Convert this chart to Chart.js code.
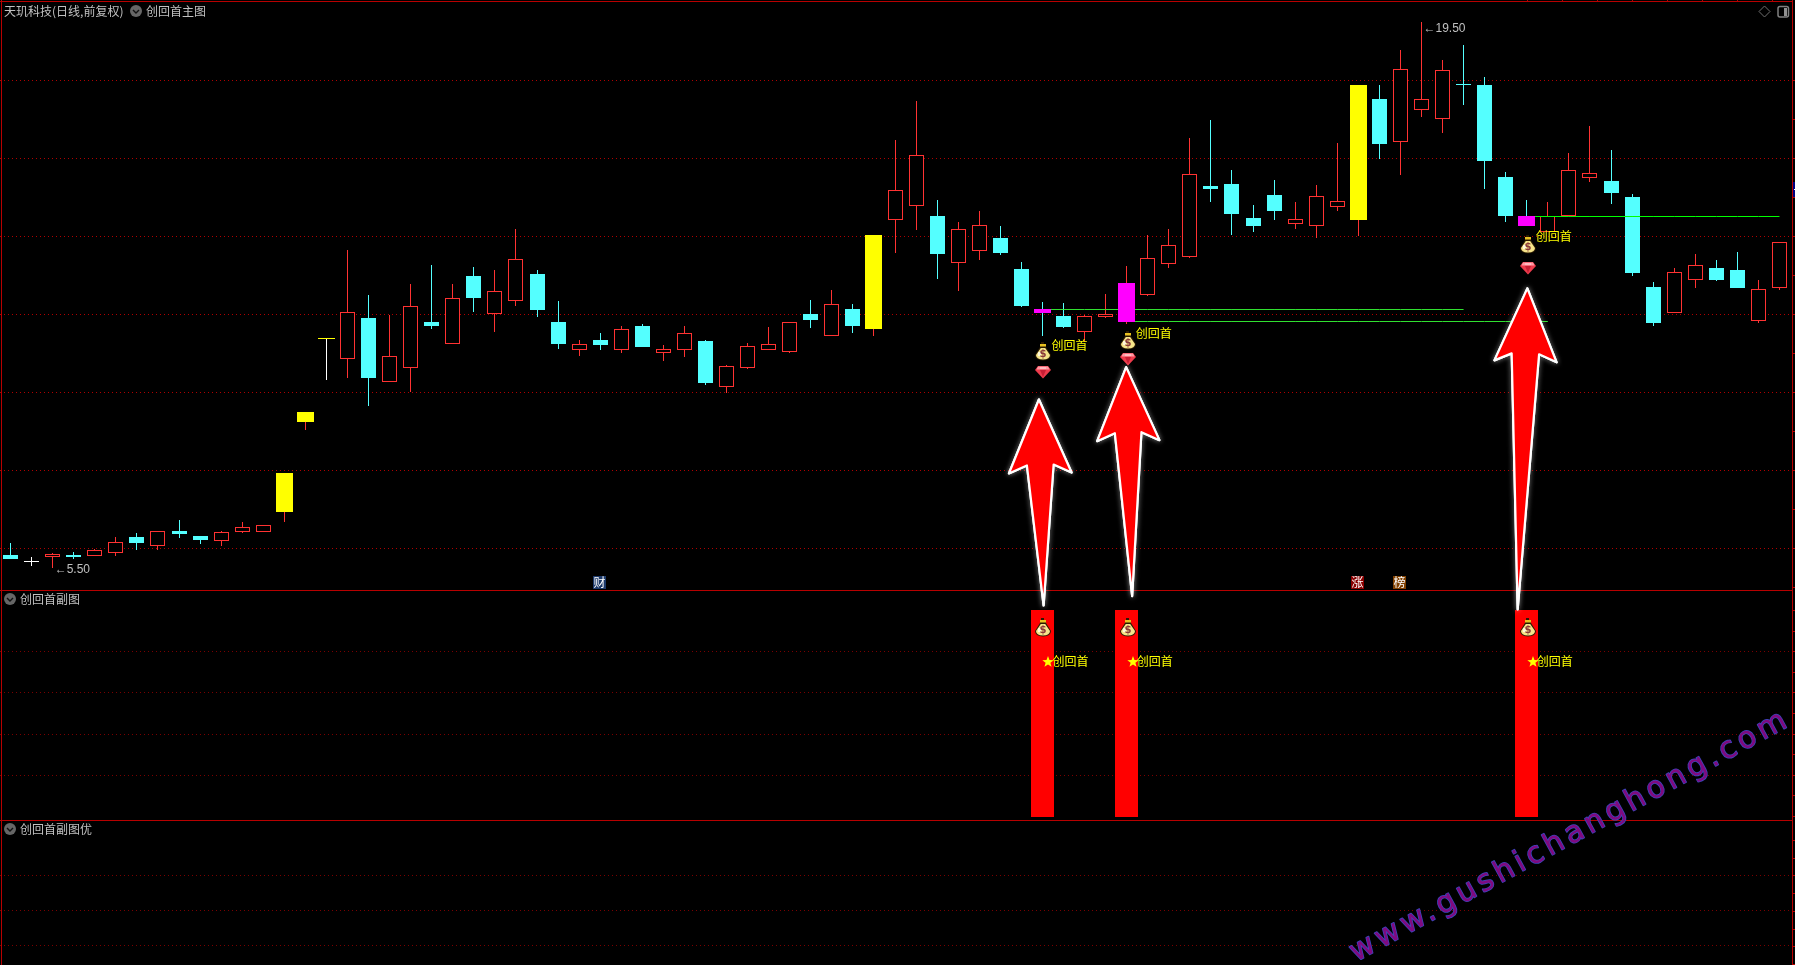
<!DOCTYPE html>
<html lang="zh">
<head>
<meta charset="utf-8">
<title>创回首主图</title>
<style>html,body{margin:0;padding:0;background:#000;overflow:hidden}canvas{display:block}</style>
<script src="https://cdn.jsdelivr.net/npm/chart.js@4"></script>
</head>
<body>
<canvas id="c" width="1795" height="965"></canvas>
<script>
const opens = [5.83,5.69,5.77,5.83,5.80,5.89,6.29,6.07,6.45,6.32,6.18,6.43,6.43,6.94,9.25,11.39,10.85,11.91,10.28,10.63,11.81,11.24,12.99,12.02,12.35,13.04,11.81,11.10,11.35,11.10,11.71,11.00,11.10,11.32,10.15,10.64,11.10,11.05,12.01,11.46,12.14,11.63,14.43,14.79,14.53,13.33,13.64,13.96,13.17,12.14,11.96,11.56,11.94,11.81,12.51,13.30,13.48,15.29,15.35,14.47,15.06,14.33,14.28,14.76,14.42,17.53,16.41,17.25,17.00,17.90,17.88,15.53,14.53,14.11,14.52,15.51,15.42,15.01,12.71,12.05,12.89,13.19,13.14,11.84,12.69];
const closes = [5.73,5.69,5.86,5.78,5.96,6.17,6.15,6.46,6.36,6.23,6.42,6.54,6.59,7.94,9.50,11.39,12.06,10.36,10.93,12.22,11.71,12.42,12.42,12.59,13.42,12.12,11.24,11.24,11.22,11.62,11.17,11.11,11.52,10.24,10.67,11.18,11.24,11.80,11.86,12.26,11.71,14.04,15.18,16.08,13.55,14.18,14.29,13.58,12.22,12.04,11.68,11.95,12.01,12.81,13.44,13.77,15.59,15.22,14.58,14.27,14.65,14.44,15.03,14.90,17.88,16.37,18.29,17.52,18.26,17.89,15.94,14.53,14.27,14.53,15.70,15.62,15.12,13.06,11.78,13.08,13.26,12.89,12.68,12.65,13.85];
const highs  = [6.15,5.78,5.88,5.91,5.99,6.29,6.40,6.46,6.73,6.32,6.45,6.68,6.59,7.94,9.50,11.39,13.65,12.50,11.99,12.78,13.27,12.78,13.22,13.14,14.19,13.14,12.35,11.35,11.53,11.71,11.76,11.22,11.71,11.35,10.71,11.27,11.68,11.80,12.37,12.63,12.27,14.04,16.47,17.47,14.94,14.37,14.65,14.27,13.35,12.32,12.30,11.99,12.53,13.24,14.04,14.19,16.53,16.99,15.70,14.81,15.45,14.88,15.32,16.40,17.88,17.88,18.78,19.50,18.53,18.91,18.09,15.65,14.94,14.88,16.14,16.83,16.22,15.09,12.83,13.19,13.55,13.40,13.60,12.89,13.85];
const lows   = [5.73,5.56,5.50,5.73,5.80,5.82,5.97,5.97,6.28,6.12,6.07,6.41,6.43,6.69,9.04,10.33,10.38,9.66,10.28,10.01,11.62,11.24,12.07,11.56,12.23,11.94,11.12,10.94,11.10,11.02,11.17,10.82,10.92,10.20,9.99,10.61,11.10,11.02,11.66,11.46,11.53,11.46,13.58,14.17,12.92,12.60,13.41,13.53,12.19,11.46,11.65,11.30,11.91,11.76,12.48,13.20,13.46,14.88,14.04,14.12,14.42,14.19,13.97,14.66,14.02,15.99,15.58,17.06,16.65,17.37,15.22,14.37,14.27,14.11,14.52,15.40,14.83,12.99,11.71,12.05,12.68,12.86,12.68,11.78,12.63];
const labels = opens.map((_, i) => i);

const yellowDays  = [13,14,15,41,64];
const magentaDays = [49,53,72];
const signalDays  = [49,53,72];
const bagPrices   = [11.06,11.34,13.80];
const gemPrices   = [10.53,10.85,13.20];
const signalTextPrices = [11.20,11.52,13.99];
const signalText  = '创回首';

const lineStarts = [49,53,72];
const lineEnds   = [69,73,84];
const linePrices = [12.14,11.82,14.52];

const mainTicks = [6,8,10,12,14,16,18];
const subTicks  = [0.2,0.4,0.6,0.8];
const optTicks  = [0.25,0.5,0.75];
const subBarValue = 1;
const subBagValue = 0.92;
const subTextValue = 0.75;

const badgeDays   = [28,64,66];
const badgeTexts  = ['财','涨','榜'];
const badgeColors = ['#1d3a6b','#8a0000','#804000'];

const RED='#ff3232', CYAN='#54ffff', YEL='#ffff00', MAG='#ff00ff', WHITE='#ffffff';
const FRAME='#b80000';
const CJK='"Noto Sans CJK SC","Noto Sans",sans-serif';

const isYellow = i => yellowDays.includes(i);
const isMag = i => magentaDays.includes(i);
const isFlat = i => opens[i] === closes[i];
const wickColors = labels.map(i => isFlat(i) ? WHITE : closes[i] > opens[i] ? RED : CYAN);
const bodyTop = i => Math.max(opens[i], closes[i]);
const bodyBot = i => Math.min(opens[i], closes[i]);
const bodyOf = f => labels.map(i => f(i) ? [bodyBot(i), bodyTop(i)] : null);
const barBase = {type:'bar', yAxisID:'y', grouped:false, inflateAmount:0, borderSkipped:false, borderWidth:0};

function mk(w,h,fn){const c=document.createElement('canvas');c.width=w;c.height=h;fn(c.getContext('2d'));return c;}
const bagIcon = mk(18,20,g=>{
  g.fillStyle='#2a1a00';g.beginPath();g.moveTo(6,6);g.lineTo(12,6);g.lineTo(17,14);g.quadraticCurveTo(17,19,9,19.5);g.quadraticCurveTo(1,19,1,14);g.closePath();g.fill();
  g.fillStyle='#f6e48a';g.beginPath();g.moveTo(6.8,7);g.lineTo(11.2,7);g.lineTo(16,14);g.quadraticCurveTo(16,18.2,9,18.6);g.quadraticCurveTo(2,18.2,2,14);g.closePath();g.fill();
  g.fillStyle='#fff8d8';g.fillRect(4,11,3,4);
  g.fillStyle='#e8c020';g.fillRect(6,3,6,3);g.fillStyle='#2a1a00';g.fillRect(6,5.5,6,1);g.fillRect(7,1,3,2);
  g.fillStyle='#8a3a3a';g.font='bold 10px "DejaVu Sans"';g.textAlign='center';g.textBaseline='middle';g.fillText('$',9,13.5);
});
const gemIcon = mk(18,14,g=>{
  g.fillStyle='#ee3b4c';g.beginPath();g.moveTo(4,1);g.lineTo(14,1);g.lineTo(17,5);g.lineTo(9,13.5);g.lineTo(1,5);g.closePath();g.fill();
  g.fillStyle='#ff9aa4';g.beginPath();g.moveTo(4,1.5);g.lineTo(14,1.5);g.lineTo(15.5,4.5);g.lineTo(2.5,4.5);g.closePath();g.fill();
  g.fillStyle='#ffd9dd';g.fillRect(6,2.5,6,1);
  g.fillStyle='#c81e34';g.beginPath();g.moveTo(6,5);g.lineTo(12,5);g.lineTo(9,12);g.closePath();g.fill();
});
const starIcon = mk(22,12,g=>{
  g.fillStyle='#ffff00';g.beginPath();
  for(let k=0;k<10;k++){const r=k%2?2.5:6,a=-Math.PI/2+k*Math.PI/5,x=16+r*Math.cos(a),y=6+r*Math.sin(a);k?g.lineTo(x,y):g.moveTo(x,y);}
  g.closePath();g.fill();
});

const sparse = (days, vals) => labels.map(i => { const k = days.indexOf(i); return k < 0 ? null : vals[k]; });
const greenSeries = (k) => labels.map(i => (i >= lineStarts[k] && i <= lineEnds[k]) ? linePrices[k] : null);
const markerDs = (yAxisID, data, icon, order) => ({type:'line', yAxisID, data, showLine:false, pointStyle:icon, pointRadius:8, pointHoverRadius:8, order, snapMarker:true});
const greenDs = (k, color) => ({type:'line', yAxisID:'y', data:greenSeries(k), borderColor:color, borderWidth:1, pointRadius:0, spanGaps:false, tension:0, order:3, snapLine:true});

const arrowTips = [
  {day:49, price:9.82,  shape:[[-30,74],[-12,66],[4.7,206],[14.7,65],[32.7,73]], dx:-3.5},
  {day:53, price:10.65, shape:[[-29,74],[-11.3,66],[6,229],[15.3,65],[33.3,73]], dx:-0.5},
  {day:72, price:12.67, shape:[[-33,72],[-15.7,65],[-9.7,321],[11.7,66],[29.3,74]], dx:0.6}
];

const panelPlugin = {
  id:'panel',
  afterDatasetsUpdate(ch){
    ch.getSortedVisibleDatasetMetas().forEach(m=>{
      const ds = ch.data.datasets[m.index];
      if (m.type==='bar') m.data.forEach(el=>{
        if (el.skip || !isFinite(el.y)) return;
        el.x = Math.round(el.x-0.5)+0.5;
        el.y = Math.round(el.y); el.base = Math.round(el.base);
        if (ds.minOne && el.base-el.y < 1) el.base = el.y+1;
        el.height = el.base-el.y;
      });
      if (ds.snapLine) m.data.forEach(el=>{ if(!el.skip){el.y=Math.floor(el.y)+0.5;} });
      if (ds.snapMarker) m.data.forEach(el=>{ if(!el.skip){el.x=Math.round(el.x)+1;el.y=Math.round(el.y);} });
    });
  },
  beforeDatasetsDraw(ch){
    const c=ch.ctx, W=1795, H=965;
    c.save();
    c.fillStyle=FRAME;
    c.fillRect(0,1,1793,1);
    c.fillRect(1,0,1,H);
    c.fillRect(1792,0,1,H);
    c.fillRect(0,Math.round(ch.scales.y2.top),1793,1);
    c.fillRect(0,Math.round(ch.scales.y3.top),1793,1);
    for(let x=1527;x<1790;x+=35) c.fillRect(x,0,1,1);
    for(let y=80;y<590;y+=39) c.fillRect(1793,y,2,1);
    for(let y=610;y<820;y+=20.6) c.fillRect(1793,Math.round(y),2,1);
    for(let y=840;y<965;y+=17.7) c.fillRect(1793,Math.round(y),2,1);
    c.fillStyle='#000080';c.fillRect(1793,182,2,15);
    c.fillStyle='#ffffff';c.fillRect(1794,189,1,1);
    c.restore();
  },
  afterDatasetsDraw(ch){
    const c=ch.ctx, X=ch.scales.x, Y=ch.scales.y, Y2=ch.scales.y2;
    c.save();
    // arrows
    arrowTips.forEach(a=>{
      const tx=X.getPixelForValue(a.day)+a.dx, ty=Y.getPixelForValue(a.price);
      c.save();
      c.beginPath();c.moveTo(tx,ty);
      a.shape.forEach(p=>c.lineTo(tx+p[0],ty+p[1]));
      c.closePath();
      c.lineJoin='round';c.lineWidth=2.2;c.strokeStyle='#fff';c.fillStyle='#ff0000';
      c.shadowColor='rgba(255,255,255,0.65)';c.shadowBlur=5;
      c.stroke();c.shadowBlur=0;c.fill();c.stroke();
      c.restore();
    });
    // signal texts
    c.font='12px '+CJK;c.textBaseline='middle';c.textAlign='left';c.fillStyle=YEL;
    signalDays.forEach((d,k)=>{
      const x=X.getPixelForValue(d);
      c.fillText(signalText,x+9,Y.getPixelForValue(signalTextPrices[k]));
      c.fillText(signalText,x+10,Y2.getPixelForValue(subTextValue));
    });
    // extremes
    c.fillStyle='#c0c0c0';c.font='12px "Liberation Sans",sans-serif';
    const hi=highs.indexOf(Math.max(...highs)), lo=lows.indexOf(Math.min(...lows));
    c.fillText('←'+highs[hi].toFixed(2),X.getPixelForValue(hi)+2,Y.getPixelForValue(highs[hi])+7);
    c.fillText('←'+lows[lo].toFixed(2),X.getPixelForValue(lo)+2,Y.getPixelForValue(lows[lo])+2);
    // badges
    c.textAlign='center';c.font='12px '+CJK;
    badgeDays.forEach((d,k)=>{
      const x=Math.round(X.getPixelForValue(d));
      c.fillStyle=badgeColors[k];c.fillRect(x-7,576,13,13);
      c.fillStyle='#fff';c.fillText(badgeTexts[k],x-0.5,582.5);
    });
    // titles
    c.textAlign='left';c.fillStyle='#c0c0c0';c.font='12px '+CJK;
    c.fillText('天玑科技(日线,前复权)',4,11);
    c.fillText('创回首主图',146,11);
    c.fillText('创回首副图',20,599);
    c.fillText('创回首副图优',20,829);
    [[136,11],[10,599],[10,829]].forEach(p=>{
      c.fillStyle='#666';c.beginPath();c.arc(p[0],p[1],6,0,7);c.fill();
      c.strokeStyle='#111';c.lineWidth=1.4;c.beginPath();c.moveTo(p[0]-3,p[1]-1);c.lineTo(p[0],p[1]+2);c.lineTo(p[0]+3,p[1]-1);c.stroke();
    });
    c.strokeStyle='#707070';c.lineWidth=1;
    c.beginPath();c.moveTo(1764.5,6);c.lineTo(1770,11.5);c.lineTo(1764.5,17);c.lineTo(1759,11.5);c.closePath();c.stroke();
    c.strokeStyle='#808080';c.lineWidth=1.5;c.beginPath();c.roundRect(1778,6.5,10.5,10.5,2);c.stroke();
    c.fillStyle='#909090';c.fillRect(1784,8,3,8);
    c.restore();
  },
  afterDraw(ch){
    const c=ch.ctx;
    c.save();
    c.translate(1356,962);
    c.rotate(-28.6*Math.PI/180);
    c.font='30px "DejaVu Sans",sans-serif';
    c.letterSpacing='4.3px';
    c.textAlign='left';c.textBaseline='alphabetic';
    c.lineJoin='round';c.lineWidth=1.5;c.strokeStyle='#3a48c0';
    c.strokeText('www.gushichanghong.com',0,0);
    c.fillStyle='#800a80';
    c.fillText('www.gushichanghong.com',0,0);
    c.restore();
  }
};

const gridOf = (color) => ({color, drawTicks:false, lineWidth:1, z:-1});
const hiddenAxis = (min,max,ticksList,color,weight) => ({
  type:'linear', position:'left', stack:'panels', stackWeight:weight, min, max,
  grid:gridOf(color), border:{display:false, dash:[1,3]},
  ticks:{display:false},
  afterBuildTicks:s=>{s.ticks=ticksList.map(v=>({value:v}));},
  afterFit:s=>{s.width=0;}
});

new Chart(document.getElementById('c'),{
  data:{labels,datasets:[
    {...barBase, data:labels.map(i=>[bodyTop(i),highs[i]]), barThickness:1, backgroundColor:wickColors, order:6},
    {...barBase, data:labels.map(i=>[lows[i],bodyBot(i)]), barThickness:1, backgroundColor:wickColors, order:6},
    {...barBase, data:bodyOf(i=>closes[i]>opens[i]&&!isYellow(i)&&!isMag(i)), barThickness:15, backgroundColor:'#000', borderColor:RED, borderWidth:1, minOne:true, order:5},
    {...barBase, data:bodyOf(i=>closes[i]<opens[i]&&!isMag(i)), barThickness:15, backgroundColor:CYAN, minOne:true, order:5},
    {...barBase, data:bodyOf(i=>isFlat(i)&&!isYellow(i)), barThickness:15, backgroundColor:WHITE, minOne:true, order:5},
    {...barBase, data:bodyOf(isYellow), barThickness:17, backgroundColor:YEL, minOne:true, order:5},
    greenDs(0,'#30e030'), greenDs(1,'#30e030'), greenDs(2,'#00ff00'),
    {...barBase, data:bodyOf(isMag), barThickness:17, backgroundColor:MAG, minOne:true, order:2},
    markerDs('y',sparse(signalDays,bagPrices),bagIcon,1),
    markerDs('y',sparse(signalDays,gemPrices),gemIcon,1),
    {...barBase, yAxisID:'y2', data:sparse(signalDays,signalDays.map(()=>[0,subBarValue])), barThickness:23, backgroundColor:'#ff0000', order:4},
    markerDs('y2',sparse(signalDays,signalDays.map(()=>subBagValue)),bagIcon,1),
    markerDs('y2',sparse(signalDays,signalDays.map(()=>subTextValue)),starIcon,1)
  ]},
  options:{
    responsive:false, animation:false, devicePixelRatio:1,
    layout:{autoPadding:false,padding:{left:0,right:5,top:1,bottom:0}},
    events:[],
    plugins:{legend:{display:false},tooltip:{enabled:false},title:{display:false}},
    scales:{
      x:{type:'category',display:false,offset:true},
      y3:hiddenAxis(0.115,1.145,optTicks,'#7a0000',145),
      y2:hiddenAxis(-0.0145,1.0966,subTicks,'#7a0000',230),
      y:hiddenAxis(4.936,20.038,mainTicks,'#b00000',589)
    }
  },
  plugins:[panelPlugin]
});
</script>
</body>
</html>
